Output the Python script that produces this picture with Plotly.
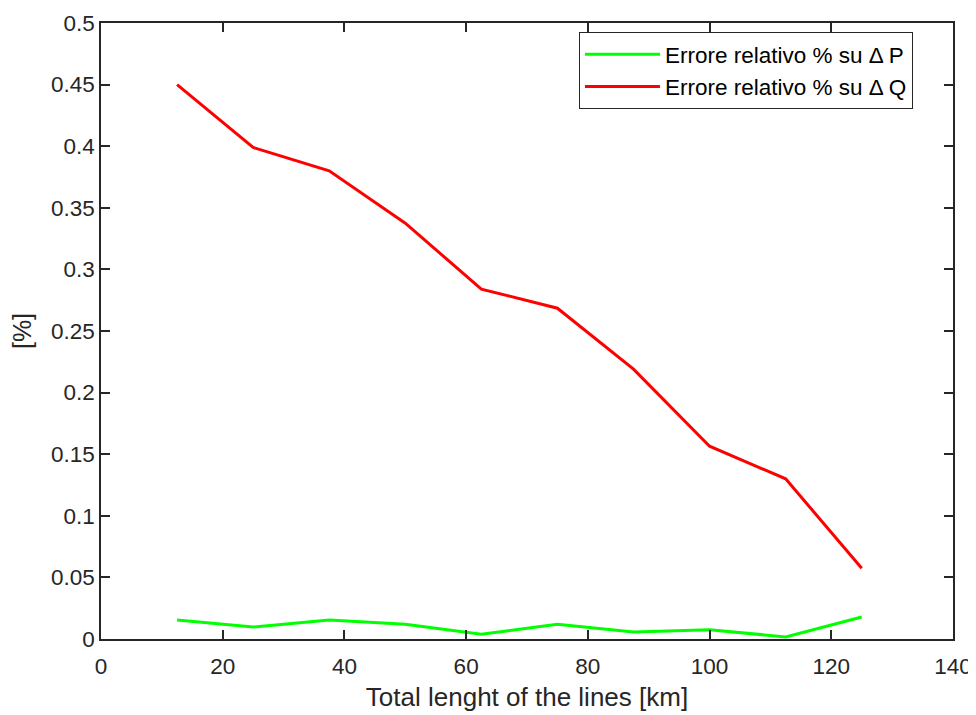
import plotly.graph_objects as go

length_km = [12.5, 25, 37.5, 50, 62.5, 75, 87.5, 100, 112.5, 125]
err_dP = [0.0155, 0.0097, 0.0155, 0.012, 0.0038, 0.012, 0.0057, 0.0075, 0.0017, 0.0178]
err_dQ = [0.450, 0.399, 0.380, 0.3375, 0.284, 0.2685, 0.219, 0.1565, 0.130, 0.0575]

x_ticks = [0, 20, 40, 60, 80, 100, 120, 140]
y_ticks = [0, 0.05, 0.1, 0.15, 0.2, 0.25, 0.3, 0.35, 0.4, 0.45, 0.5]
y_ticklabels = ["0", "0.05", "0.1", "0.15", "0.2", "0.25", "0.3", "0.35", "0.4", "0.45", "0.5"]

FONT = "Liberation Sans, Arial, sans-serif"
AX = "#262626"

fig = go.Figure()
fig.add_trace(go.Scatter(x=length_km, y=err_dP, mode="lines",
                         name="Errore relativo % su Δ P",
                         line=dict(color="#00ff00", width=3)))
fig.add_trace(go.Scatter(x=length_km, y=err_dQ, mode="lines",
                         name="Errore relativo % su Δ Q",
                         line=dict(color="#ff0000", width=3)))

axis_common = dict(showgrid=False, zeroline=False, showline=True, linecolor=AX,
                   linewidth=1.5, mirror="ticks", ticks="inside", ticklen=9,
                   tickwidth=1.5, tickcolor=AX, automargin=False,
                   tickfont=dict(family=FONT, size=22.5, color=AX))

fig.update_xaxes(range=[0, 140], tickvals=x_ticks, ticklabelstandoff=6,
                 title=dict(text="Total lenght of the lines [km]",
                            font=dict(family=FONT, size=26, color=AX), standoff=10),
                 **axis_common)
fig.update_yaxes(range=[0, 0.5], tickvals=y_ticks, ticktext=y_ticklabels,
                 title=dict(text="[%]", font=dict(family=FONT, size=25, color=AX), standoff=14),
                 **axis_common)

# page body has an 8px margin: shift layout so the plot lands where the reference has it
fig.update_layout(
    width=968, height=707,
    margin=dict(l=93, r=23, t=15, b=76),
    paper_bgcolor="white", plot_bgcolor="white",
    font=dict(family=FONT, color=AX),
    legend=dict(x=0.953, y=0.985, xanchor="right", yanchor="top",
                bgcolor="white", bordercolor="#262626", borderwidth=1,
                font=dict(family=FONT, size=22.5, color="black"),
                itemwidth=75, tracegroupgap=0),
    showlegend=True,
)

fig.write_html("out.html")
